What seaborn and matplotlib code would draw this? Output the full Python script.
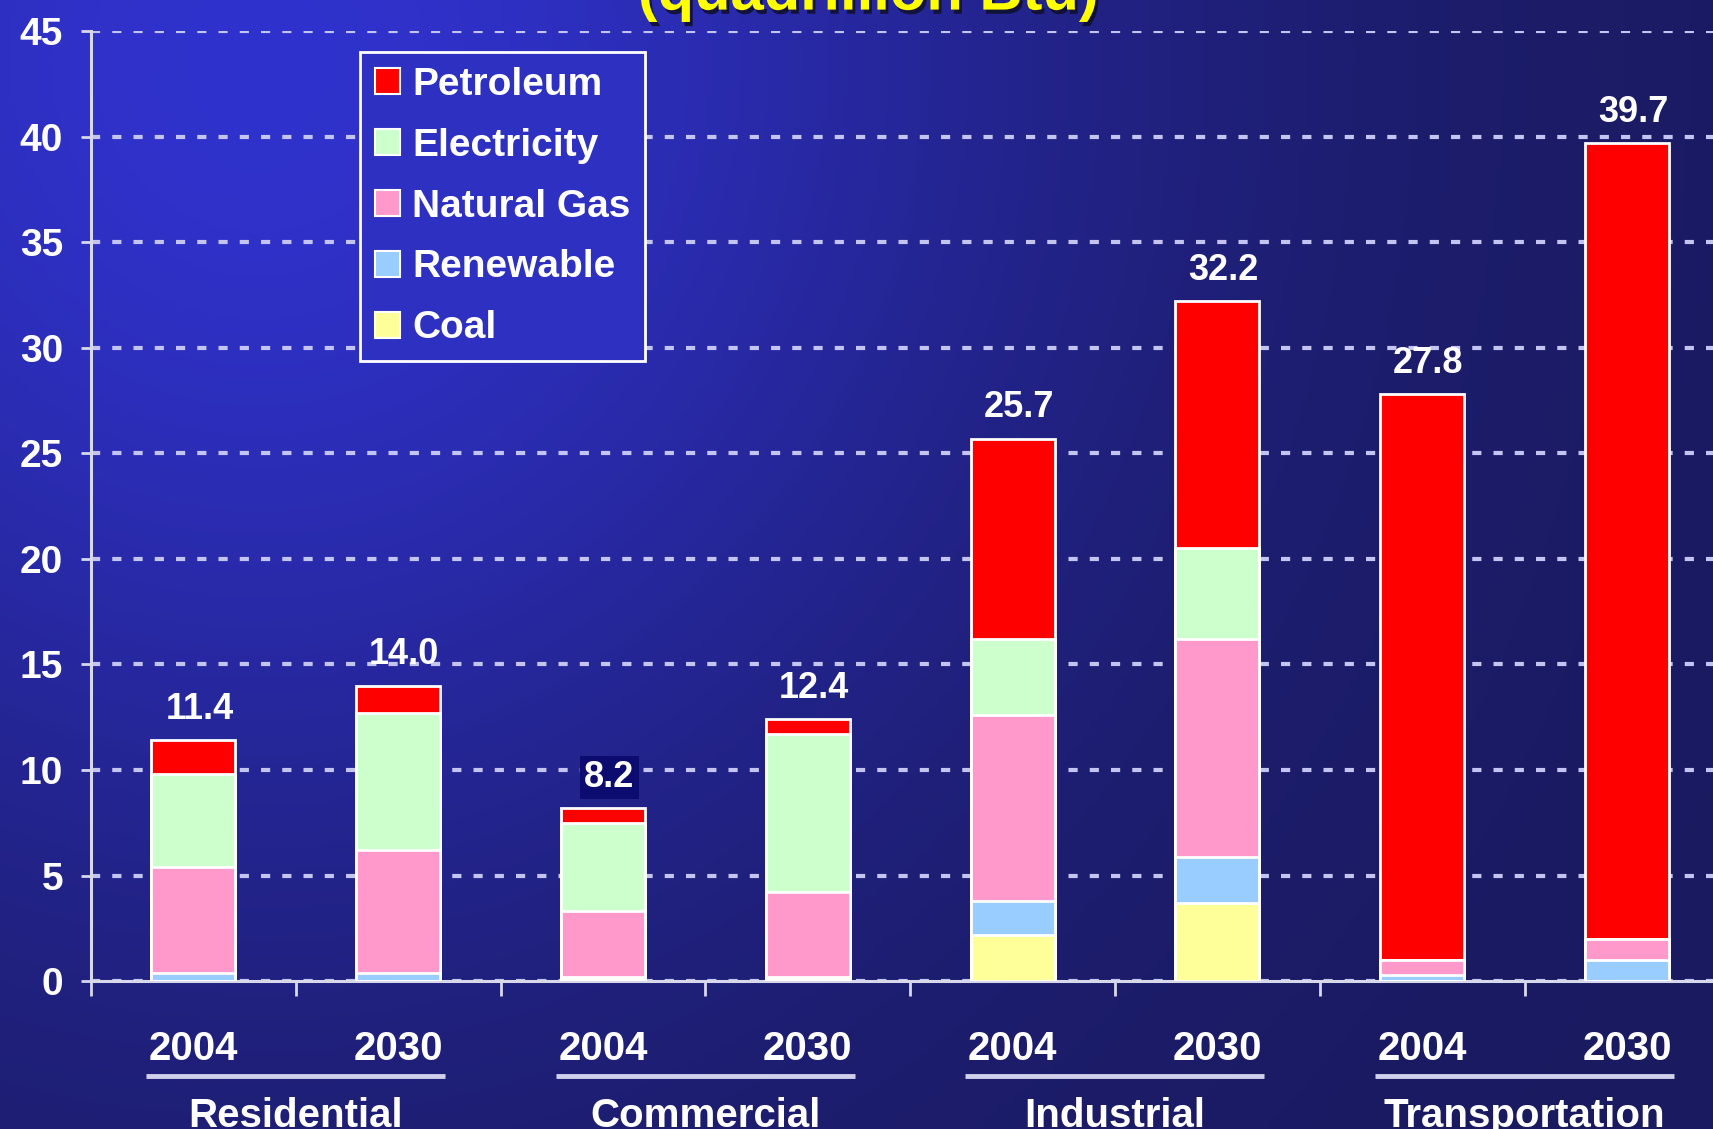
import numpy as np
import pandas as pd
import seaborn as sns
import matplotlib.pyplot as plt
import matplotlib.patheffects as pe
from matplotlib.patches import Patch

# Energy use by sector and fuel (quadrillion Btu)
sectors = ['Residential', 'Commercial', 'Industrial', 'Transportation']
years = ['2004', '2030', '2004', '2030', '2004', '2030', '2004', '2030']
bars = ['Res 2004', 'Res 2030', 'Com 2004', 'Com 2030',
        'Ind 2004', 'Ind 2030', 'Tra 2004', 'Tra 2030']

# stacked bottom -> top
fuels = ['Coal', 'Renewable', 'Natural Gas', 'Electricity', 'Petroleum']
coal = [0.0, 0.0, 0.1, 0.1, 2.2, 3.7, 0.0, 0.0]
renewable = [0.4, 0.4, 0.1, 0.1, 1.6, 2.2, 0.3, 1.0]
natural_gas = [5.0, 5.8, 3.1, 4.0, 8.8, 10.3, 0.7, 1.0]
electricity = [4.4, 6.5, 4.2, 7.5, 3.6, 4.3, 0.0, 0.0]
petroleum = [1.6, 1.3, 0.7, 0.7, 9.5, 11.7, 26.8, 37.7]
totals = [11.4, 14.0, 8.2, 12.4, 25.7, 32.2, 27.8, 39.7]

colors = {'Petroleum': '#ff0000', 'Electricity': '#ccffcc', 'Natural Gas': '#ff99cc',
          'Renewable': '#99ccff', 'Coal': '#ffff99'}

df = pd.DataFrame({'bar': bars, 'Coal': coal, 'Renewable': renewable,
                   'Natural Gas': natural_gas, 'Electricity': electricity,
                   'Petroleum': petroleum})
cum = df[fuels].cumsum(axis=1)
cum['bar'] = df['bar']

sns.set_style('white')
plt.rcParams['font.family'] = ['Liberation Sans', 'DejaVu Sans']
plt.rcParams['font.weight'] = 'bold'

fig = plt.figure(figsize=(17.13, 11.29), dpi=100)

# gradient background (bright blue top-left fading to navy)
bg = fig.add_axes([0, 0, 1, 1], zorder=-10)
bg.axis('off')
H, W = 300, 450
u = np.linspace(0, 1, W)[None, :]
v = np.linspace(0, 1, H)[:, None]
f = np.exp(-(((u - 0.15) / 0.47) ** 2 + ((v - 0.05) / 0.75) ** 2))
dark = np.array([26, 26, 96]) / 255
bright = np.array([48, 50, 205]) / 255
img = dark[None, None, :] + (bright - dark)[None, None, :] * f[:, :, None]
bg.imshow(img, aspect='auto', extent=[0, 1, 0, 1])
bg.set_xlim(0, 1)
bg.set_ylim(0, 1)

ax = fig.add_axes([0.0531, 0.131, 1 - 0.0531, 0.8415])
ax.set_facecolor('none')

# draw cumulative bars tallest first so each segment sits on top
for fuel in reversed(fuels):
    sns.barplot(data=cum, x='bar', y=fuel, color=colors[fuel], saturation=1,
                width=0.41, edgecolor='white', linewidth=2, errorbar=None,
                ax=ax, zorder=3)

ax.set_xlabel('')
ax.set_ylabel('')

line_col = '#d8d8ec'
ax.set_yticks(range(0, 50, 5))
ax.set_yticklabels([str(t) for t in range(0, 50, 5)], color='white',
                   fontsize=28, fontweight='bold')
ax.set_xticks(np.arange(-0.5, 8, 1))
ax.set_xticklabels([])
ax.set_xlim(-0.5, 7.42)
ax.set_ylim(0, 45)
ax.tick_params(axis='y', left=True, direction='out', length=7, width=2,
               color=line_col, pad=13)
ax.tick_params(axis='x', bottom=True, direction='out', length=11, width=2,
               color=line_col)
ax.yaxis.grid(True, color='#c4c4f2', lw=3, linestyle=(0, (2.2, 2.9)))
ax.xaxis.grid(False)
ax.set_axisbelow(True)
for s in ['top', 'right']:
    ax.spines[s].set_visible(False)
for s in ['left', 'bottom']:
    ax.spines[s].set_color(line_col)
    ax.spines[s].set_linewidth(2.2)

# totals above bars
for i, t in enumerate(totals):
    kw = {}
    if t == 8.2:
        kw['bbox'] = dict(facecolor='#0c0c70', edgecolor='none', pad=3)
    ax.text(i + 0.03, t + 1.0, f'{t:.1f}', ha='center', va='baseline', color='white',
            fontsize=26, fontweight='bold', zorder=5, **kw)

# year and sector labels under the axis
for i, y in enumerate(years):
    ax.text(i, -3.2, y, ha='center', va='center', color='white',
            fontsize=29, fontweight='bold', clip_on=False)
for k, s in enumerate(sectors):
    x0 = 2 * k
    ax.plot([x0 - 0.23, x0 + 1.23], [-4.5, -4.5], color='#d0d0ec', lw=3.5,
            clip_on=False, solid_capstyle='butt')
    ax.text(x0 + 0.5, -6.9, s, ha='center', va='baseline', color='white',
            fontsize=29, fontweight='bold', clip_on=False)

# legend (opaque box, hides the grid behind it)
order = ['Petroleum', 'Electricity', 'Natural Gas', 'Renewable', 'Coal']
handles = [Patch(facecolor=colors[n], edgecolor='white', linewidth=1.5, label=n)
           for n in order]
leg = ax.legend(handles=handles, loc='upper left', bbox_to_anchor=(0.166, 0.978),
                borderaxespad=0, frameon=True, fancybox=False,
                prop={'size': 28, 'weight': 'bold'}, labelcolor='white',
                handlelength=0.65, handleheight=0.65, handletextpad=0.3,
                labelspacing=0.64, borderpad=0.38)
leg.get_frame().set_facecolor('#2e30c2')
leg.get_frame().set_alpha(1)
leg.get_frame().set_edgecolor('white')
leg.get_frame().set_linewidth(2)
leg.set_zorder(6)

# clipped title at the top edge
fig.text(0.507, 0.9915, '(quadrillion Btu)', ha='center', va='baseline',
         color='#ffff00', fontsize=43, fontweight='bold',
         path_effects=[pe.SimplePatchShadow(offset=(2, -3), shadow_rgbFace='#101030',
                                            alpha=0.9), pe.Normal()])

fig.savefig('out.png', dpi=100)
